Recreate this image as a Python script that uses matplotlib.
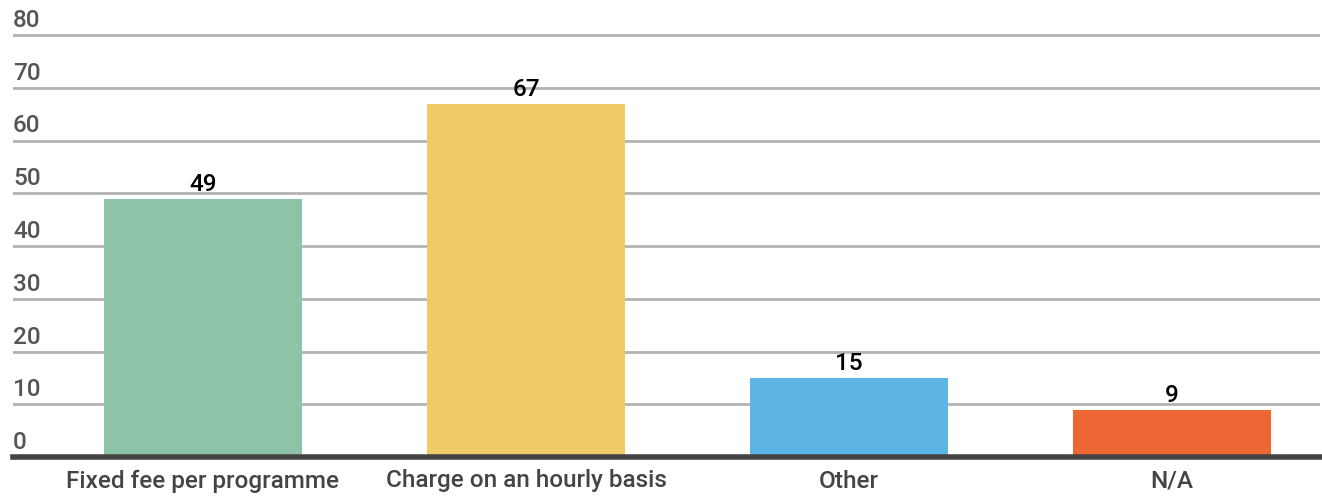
import matplotlib
matplotlib.use("Agg")
import matplotlib.pyplot as plt
from matplotlib.transforms import blended_transform_factory, offset_copy

categories = ["Fixed fee per programme", "Charge on an hourly basis", "Other", "N/A"]
values = [49, 67, 15, 9]
colors = ["#8DC3A7", "#EFCB68", "#5DB5E5", "#EC6733"]
yticks = [0, 10, 20, 30, 40, 50, 60, 70, 80]

plt.rcParams['font.family'] = ['Roboto', 'DejaVu Sans']

fig = plt.figure(figsize=(13.22, 4.97), dpi=100)
W, H = 1322, 497
ax = fig.add_axes([13 / W, 1 - 457 / H, (1320 - 13) / W, (457 - 24.45) / H])

x = list(range(len(categories)))
ax.bar(x, values, width=0.613, color=colors, zorder=3)
ax.set_xlim(-0.588, 3.458)
ax.set_ylim(0, 82)

for s in ax.spines.values():
    s.set_visible(False)

for t in yticks[1:]:
    ax.axhline(t, color="#b3b3b3", linewidth=2, zorder=1)
ax.axhline(0, color="#444444", linewidth=4, zorder=4, clip_on=False)

ax.set_yticks([])
ax.set_xticks(x)
ax.set_xticklabels(categories, fontsize=17.5, color="#444444", fontweight="medium")
ax.tick_params(axis="x", length=0, pad=9)

trans = blended_transform_factory(ax.transAxes, ax.transData)
trans = offset_copy(trans, fig=fig, x=0, y=3, units="dots")
for t in yticks:
    ax.text(0.0, t, str(t), transform=trans, ha="left", va="bottom",
            fontsize=17.5, color="#555555", fontweight="medium")

for xi, v in zip(x, values):
    ax.annotate(str(v), (xi, v), xytext=(0, 2), textcoords="offset points",
                ha="center", va="bottom", fontsize=17.5, color="#000000",
                fontweight="medium", zorder=5)

fig.savefig("out.png", dpi=100)
